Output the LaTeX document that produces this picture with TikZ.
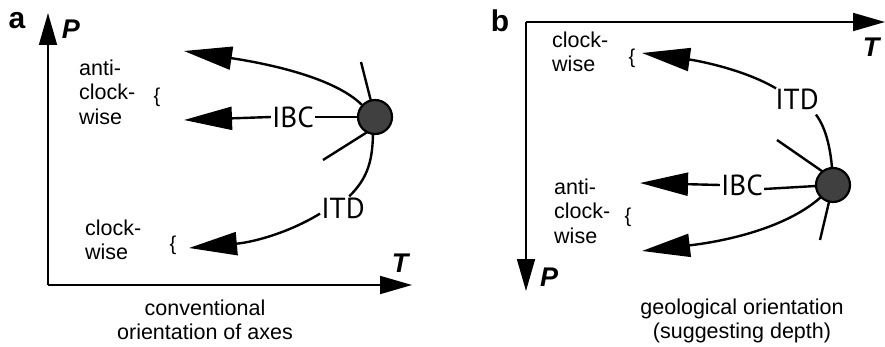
\documentclass[tikz,border=0pt]{standalone}
\usepackage{fontspec}
\setmainfont{Liberation Sans}
\newfontfamily\lblfont{PT Sans}
\usetikzlibrary{arrows.meta}
\definecolor{dotgray}{HTML}{404040}
\tikzset{
  axis/.style={line width=1.8pt,-{Triangle[length=32pt,width=18pt]}},
  path/.style={line width=2.4pt},
  patharrow/.style={line width=2.4pt,-{Triangle[length=48pt,width=23pt]}},
  dot/.style={circle,draw,line width=2.2pt,fill=dotgray,minimum size=34pt,inner sep=0pt},
  procname/.style={font=\lblfont\fontsize{29}{30}\selectfont,inner sep=1pt},
  sense/.style={font=\fontsize{21.5}{24.5}\selectfont,align=left,inner sep=0pt,anchor=west},
  brace/.style={font=\fontsize{20}{22}\selectfont,inner sep=0pt},
  caption/.style={font=\fontsize{21.5}{24}\selectfont,align=center,inner sep=0pt},
  panel/.style={font=\fontsize{30}{30}\selectfont\bfseries,inner sep=0pt},
  axlabel/.style={font=\fontsize{27}{28}\selectfont\bfseries\itshape,inner sep=0pt}
}
\begin{document}
\begin{tikzpicture}[x=1pt,y=-1pt]
\useasboundingbox (0,0) rectangle (885,347);
% ===== panel a =====
\node[panel] (la) at (17,21) {a};
\coordinate (ao) at (48,285);
\coordinate (apt) at (48,13);
\coordinate (att) at (412,285);
\draw[axis] (ao) -- (apt);
\draw[axis] (ao) -- (att);
\node[axlabel] (aP) at (71,29) {P};
\node[axlabel] (aT) at (400,263) {T};
\node[procname] (aibc) at (293,117) {IBC};
\node[procname] (aitd) at (343,208) {ITD};
\coordinate (ac) at (375,117);
\coordinate (aup) at (361,62);
\coordinate (adl) at (323,160);
\coordinate (adlend) at (369,131);
\coordinate (atip1) at (184,51);
\coordinate (atip2) at (184,120);
\coordinate (atip3) at (189,248);
\draw[path] (aup) -- (ac);
\draw[path] (adl) -- (adlend);
\draw[path] (aibc.east) -- (ac);
\draw[patharrow] (ac) ++(-13,-12) .. controls (335,78) and (270,64) .. (atip1);
\draw[patharrow] (aibc.west) -- (atip2);
\draw[path] (373,130) .. controls (373,160) and (368,178) .. (aitd.62);
\draw[patharrow] (aitd.south west) ++(0,-6) .. controls (290,232) and (255,242) .. (atip3);
\node[dot] (adot) at (ac) {};
\node[sense] (aanti) at (79,92) {anti-\\clock-\\wise};
\node[brace] (ab1) at (157,97) {\{};
\node[sense] (aclock) at (85,240) {clock-\\wise};
\node[brace] (ab2) at (173,245) {\{};
\node[caption] (acap) at (205,320) {conventional\\orientation of axes};
% ===== panel b =====
\node[panel] (lb) at (500,21) {b};
\coordinate (bo) at (526,22);
\coordinate (btt) at (885,22);
\coordinate (bpt) at (526,291);
\draw[axis] (bo) -- (btt);
\draw[axis] (bo) -- (bpt);
\node[axlabel] (bT) at (871,47) {T};
\node[axlabel] (bP) at (549,277) {P};
\node[procname] (bitd) at (797,99) {ITD};
\node[procname] (bibc) at (742,185) {IBC};
\coordinate (bc) at (833,185);
\coordinate (bul) at (777,140);
\coordinate (bulend) at (829,176);
\coordinate (bdn) at (820,240);
\coordinate (btip1) at (642,53);
\coordinate (btip2) at (640,183);
\coordinate (btip3) at (642,251);
\draw[path] (bul) -- (bulend);
\draw[path] (bc) -- (bdn);
\draw[path] (bibc.east) ++(0,4) -- (bc);
\draw[patharrow] (bitd.north west) ++(2,1) .. controls (745,70) and (700,61) .. (btip1);
\draw[path] (bitd.south east) ++(-4,4) .. controls (826,128) and (832,150) .. (bc);
\draw[patharrow] (bibc.west) -- (btip2);
\draw[patharrow] (bc) ++(-12,12) .. controls (790,225) and (735,240) .. (btip3);
\node[dot] (bdot) at (bc) {};
\node[sense] (bclock) at (552,52) {clock-\\wise};
\node[brace] (bb1) at (632,58) {\{};
\node[sense] (banti) at (554,211) {anti-\\clock-\\wise};
\node[brace] (bb2) at (628,217) {\{};
\node[caption] (bcap) at (742,321) {geological orientation\\(suggesting depth)};
\end{tikzpicture}
\end{document}
